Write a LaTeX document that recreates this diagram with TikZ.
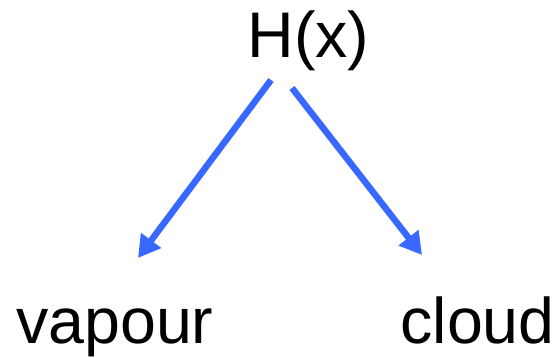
\documentclass[tikz,border=0pt]{standalone}
\usepackage{fontspec}
\setmainfont{Liberation Sans}
\usetikzlibrary{arrows.meta}
\definecolor{arrowblue}{RGB}{56,104,255}
\tikzset{
  lbl/.style={inner sep=0pt, outer sep=0pt, anchor=base west, font=\fontsize{64.5}{70}\selectfont},
  arr/.style={draw=arrowblue, line width=6.5pt, -{Triangle[length=22pt,width=24pt]}}
}
\begin{document}
\begin{tikzpicture}[x=1pt,y=1pt]
\useasboundingbox (0,0) rectangle (556,357);
\node[lbl] (hx) at (247.5,299.5) {H(x)};
\node[lbl] (vap) at (16.3,14) {vapour};
\node[lbl] (cld) at (400.5,14) {cloud};
\coordinate (s1) at (271,277);
\coordinate (t1) at (138,99);
\coordinate (s2) at (292,269);
\coordinate (t2) at (422,102);
\draw[arr] (s1) -- (t1);
\draw[arr] (s2) -- (t2);
\end{tikzpicture}
\end{document}
